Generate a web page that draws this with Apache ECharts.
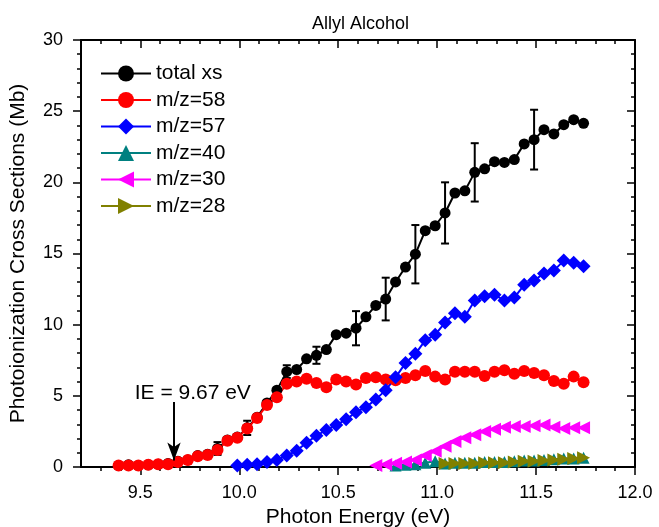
<!DOCTYPE html>
<html>
<head>
<meta charset="utf-8">
<title>Allyl Alcohol</title>
<script src="https://cdn.jsdelivr.net/npm/echarts@6.0.0/dist/echarts.min.js"></script>
<style>
  html, body { margin: 0; padding: 0; background: #fff; }
  #chart { width: 659px; height: 527px; }
</style>
</head>
<body>
<div id="chart"></div>
<script>
// Photon energies (eV) of the scan points
const energies = [
  9.39, 9.44, 9.49, 9.54, 9.59, 9.64, 9.69, 9.74, 9.79, 9.84,
  9.89, 9.94, 9.99, 10.04, 10.09, 10.14, 10.19, 10.24, 10.29, 10.34,
  10.39, 10.44, 10.49, 10.54, 10.59, 10.64, 10.69, 10.74, 10.79, 10.84,
  10.89, 10.94, 10.99, 11.04, 11.09, 11.14, 11.19, 11.24, 11.29, 11.34,
  11.39, 11.44, 11.49, 11.54, 11.59, 11.64, 11.69, 11.74
];

// Cross sections (Mb); null = not measured for that channel
const totalXs = [
  0.1, 0.15, 0.1, 0.15, 0.2, 0.25, 0.4, 0.5, 0.8, 0.9,
  1.3, 1.9, 2.1, 2.75, 3.5, 4.5, 5.4, 6.7, 6.85, 7.6,
  7.85, 8.25, 9.3, 9.4, 9.75, 10.55, 11.35, 11.8, 13.0, 14.05,
  14.95, 16.6, 16.95, 17.85, 19.25, 19.4, 20.7, 20.95, 21.45, 21.4,
  21.6, 22.7, 23.0, 23.7, 23.4, 24.05, 24.4, 24.15
];
// Half-width of the error bars on the total cross section
const totalErr = [
  null, 0.1, null, null, null, null, 0.15, null, null, null,
  0.45, null, null, 0.5, null, null, null, 0.45, null, null,
  0.6, null, null, null, 1.2, null, null, 1.5, null, null,
  2.05, null, null, 2.15, null, null, 2.05, null, null, null,
  null, null, 2.1, null, null, null, null, null
];
const mz58 = [
  0.1, 0.1, 0.1, 0.15, 0.2, 0.2, 0.35, 0.5, 0.75, 0.85,
  1.2, 1.85, 2.05, 2.7, 3.45, 4.35, 4.9, 5.85, 6.0, 6.2,
  5.9, 5.6, 6.15, 6.0, 5.8, 6.25, 6.3, 6.15, 6.1, 6.25,
  6.45, 6.75, 6.35, 6.15, 6.7, 6.7, 6.7, 6.4, 6.7, 6.8,
  6.55, 6.75, 6.6, 6.45, 6.05, 5.85, 6.35, 5.95
];
const mz57 = [
  null, null, null, null, null, null, null, null, null, null,
  null, null, 0.1, 0.15, 0.2, 0.35, 0.5, 0.8, 1.15, 1.7,
  2.2, 2.6, 2.95, 3.35, 3.85, 4.2, 4.75, 5.4, 6.3, 7.3,
  7.95, 8.9, 9.3, 10.15, 10.8, 10.55, 11.7, 12.0, 12.1, 11.7,
  11.9, 12.8, 13.1, 13.6, 13.8, 14.5, 14.35, 14.1
];
const mz40 = [
  null, null, null, null, null, null, null, null, null, null,
  null, null, null, null, null, null, null, null, null, null,
  null, null, null, null, null, null, null, null, 0.1, 0.15,
  0.2, 0.3, 0.4, 0.25, 0.3, 0.3, 0.3, 0.35, 0.35, 0.35,
  0.4, 0.45, 0.45, 0.5, 0.55, 0.6, 0.6, 0.65
];
const mz30 = [
  null, null, null, null, null, null, null, null, null, null,
  null, null, null, null, null, null, null, null, null, null,
  null, null, null, null, null, null, 0.1, 0.18, 0.27, 0.35,
  0.5, 0.8, 1.1, 1.45, 1.8, 2.05, 2.27, 2.5, 2.65, 2.8,
  2.85, 2.85, 2.9, 2.95, 2.8, 2.7, 2.75, 2.75
];
const mz28 = [
  null, null, null, null, null, null, null, null, null, null,
  null, null, null, null, null, null, null, null, null, null,
  null, null, null, null, null, null, null, null, null, null,
  null, null, null, 0.25, 0.25, 0.25, 0.25, 0.3, 0.3, 0.3,
  0.35, 0.4, 0.4, 0.45, 0.5, 0.55, 0.6, 0.65
];

const seriesNames = ['total xs', 'm/z=58', 'm/z=57', 'm/z=40', 'm/z=30', 'm/z=28'];

// Axis ticks
const xMajorTicks = [9.5, 10.0, 10.5, 11.0, 11.5, 12.0];
const xMinorTicks = [9.3, 9.4, 9.6, 9.7, 9.8, 9.9, 10.1, 10.2, 10.3, 10.4, 10.6, 10.7,
                     10.8, 10.9, 11.1, 11.2, 11.3, 11.4, 11.6, 11.7, 11.8, 11.9];
const yTicks = [0, 5, 10, 15, 20, 25, 30];

// Ionization energy annotation
const ionizationEnergy = 9.67;
const arrowTop = 4.56;
const arrowTip = 0.46;

const FONT = '"Liberation Sans", Arial, Helvetica, sans-serif';

function pairs(values) {
  const out = [];
  values.forEach((v, i) => { if (v !== null) out.push([energies[i], v]); });
  return out;
}

const errorData = [];
totalErr.forEach((e, i) => {
  if (e !== null) errorData.push([energies[i], totalXs[i] - e, totalXs[i] + e]);
});

const leftTri = 'path://M0,5 L10,0 L10,10 Z';
const rightTri = 'path://M10,5 L0,0 L0,10 Z';

function lineSeries(name, values, color, symbol, size) {
  return {
    name: name,
    type: 'line',
    data: pairs(values),
    symbol: symbol,
    symbolSize: size,
    showAllSymbol: true,
    itemStyle: { color: color },
    lineStyle: { color: color, width: 2 },
    emphasis: { disabled: true },
    xAxisIndex: 0,
    yAxisIndex: 0
  };
}

const axisColor = '#000';
const baseX = { type: 'value', min: 9.2, max: 12.0, splitLine: { show: false } };
const baseY = { type: 'value', min: 0, max: 30, interval: 5, splitLine: { show: false } };

const option = {
  animation: false,
  backgroundColor: '#fff',
  textStyle: { fontFamily: FONT },
  title: {
    text: 'Allyl Alcohol',
    left: 307,
    top: 10,
    textStyle: { fontFamily: FONT, fontSize: 18, fontWeight: 'normal', color: '#000' }
  },
  legend: {
    data: seriesNames,
    orient: 'vertical',
    left: 95,
    top: 58,
    itemWidth: 50,
    itemHeight: 20,
    itemGap: 5.5,
    textStyle: { fontFamily: FONT, fontSize: 21, color: '#000' }
  },
  grid: { left: 81, right: 24, top: 40, bottom: 60, containLabel: false, outerBoundsMode: 'none' },
  xAxis: [
    Object.assign({}, baseX, {
      position: 'bottom',
      name: 'Photon Energy (eV)',
      nameLocation: 'middle',
      nameGap: 38,
      nameTextStyle: { fontFamily: FONT, fontSize: 21, color: '#000' },
      axisLine: { show: true, onZero: false, lineStyle: { color: axisColor, width: 2 } },
      axisTick: { show: true, customValues: xMajorTicks, length: 8, lineStyle: { color: axisColor, width: 1.5 } },
      axisLabel: { customValues: xMajorTicks, formatter: v => v.toFixed(1), fontFamily: FONT, fontSize: 18, color: '#000', margin: 17 }
    }),
    Object.assign({}, baseX, {
      position: 'bottom',
      axisLine: { show: false, onZero: false },
      axisTick: { show: true, customValues: xMinorTicks, length: 4, lineStyle: { color: axisColor, width: 1.5 } },
      axisLabel: { show: false }
    }),
    Object.assign({}, baseX, {
      position: 'top',
      axisLine: { show: true, onZero: false, lineStyle: { color: axisColor, width: 2 } },
      axisTick: { show: true, inside: true, customValues: xMajorTicks, length: 8, lineStyle: { color: axisColor, width: 1.5 } },
      axisLabel: { show: false }
    }),
    Object.assign({}, baseX, {
      position: 'top',
      axisLine: { show: false, onZero: false },
      axisTick: { show: true, inside: true, customValues: xMinorTicks, length: 4, lineStyle: { color: axisColor, width: 1.5 } },
      axisLabel: { show: false }
    })
  ],
  yAxis: [
    Object.assign({}, baseY, {
      position: 'left',
      name: 'Photoionization Cross Sections (Mb)',
      nameLocation: 'middle',
      nameGap: 52,
      nameTextStyle: { fontFamily: FONT, fontSize: 21, color: '#000' },
      axisLine: { show: true, onZero: false, lineStyle: { color: axisColor, width: 2 } },
      axisTick: { show: true, length: 8, lineStyle: { color: axisColor, width: 1.5 } },
      minorTick: { show: true, splitNumber: 5, length: 4, lineStyle: { color: axisColor, width: 1.5 } },
      axisLabel: { customValues: yTicks, fontFamily: FONT, fontSize: 18, color: '#000', margin: 18 }
    }),
    Object.assign({}, baseY, {
      position: 'right',
      axisLine: { show: true, onZero: false, lineStyle: { color: axisColor, width: 2 } },
      axisTick: { show: true, inside: true, length: 8, lineStyle: { color: axisColor, width: 1.5 } },
      minorTick: { show: true, splitNumber: 5, length: 4, lineStyle: { color: axisColor, width: 1.5 } },
      axisLabel: { show: false }
    })
  ],
  series: [
    lineSeries('total xs', totalXs, '#000000', 'circle', 11),
    lineSeries('m/z=58', mz58, '#ff0000', 'circle', 12),
    lineSeries('m/z=57', mz57, '#0000ff', 'diamond', 14),
    lineSeries('m/z=40', mz40, '#008080', 'triangle', 12),
    lineSeries('m/z=30', mz30, '#ff00ff', leftTri, 13),
    lineSeries('m/z=28', mz28, '#808000', rightTri, 13),
    {
      name: 'total xs error',
      type: 'custom',
      xAxisIndex: 0,
      yAxisIndex: 0,
      z: 3,
      data: errorData,
      encode: { x: 0, y: [1, 2] },
      renderItem: function (params, api) {
        const x = api.value(0);
        const top = api.coord([x, api.value(2)]);
        const bot = api.coord([x, api.value(1)]);
        const cap = 4;
        const style = { stroke: '#000', lineWidth: 2 };
        return {
          type: 'group',
          children: [
            { type: 'line', shape: { x1: top[0], y1: top[1], x2: bot[0], y2: bot[1] }, style: style },
            { type: 'line', shape: { x1: top[0] - cap, y1: top[1], x2: top[0] + cap, y2: top[1] }, style: style },
            { type: 'line', shape: { x1: bot[0] - cap, y1: bot[1], x2: bot[0] + cap, y2: bot[1] }, style: style }
          ]
        };
      },
      markLine: {
        silent: true,
        animation: false,
        symbol: ['none', 'arrow'],
        lineStyle: { color: '#000', width: 2, type: 'solid' },
        label: { show: false },
        data: [[
          { coord: [ionizationEnergy, arrowTop], symbol: 'none' },
          { coord: [ionizationEnergy, arrowTip], symbol: 'arrow', symbolSize: [10, 18] }
        ]]
      },
      markPoint: {
        silent: true,
        animation: false,
        symbol: 'circle',
        symbolSize: 1,
        itemStyle: { color: 'rgba(0,0,0,0)' },
        label: {
          show: true,
          position: 'inside',
          fontFamily: FONT,
          fontSize: 21,
          color: '#000',
          formatter: 'IE = ' + ionizationEnergy.toFixed(2) + ' eV'
        },
        data: [{ coord: [ionizationEnergy + 0.095, 5.2] }]
      }
    }
  ]
};

const chart = echarts.init(document.getElementById('chart'), null, { renderer: 'canvas' });
chart.setOption(option);
</script>
</body>
</html>
